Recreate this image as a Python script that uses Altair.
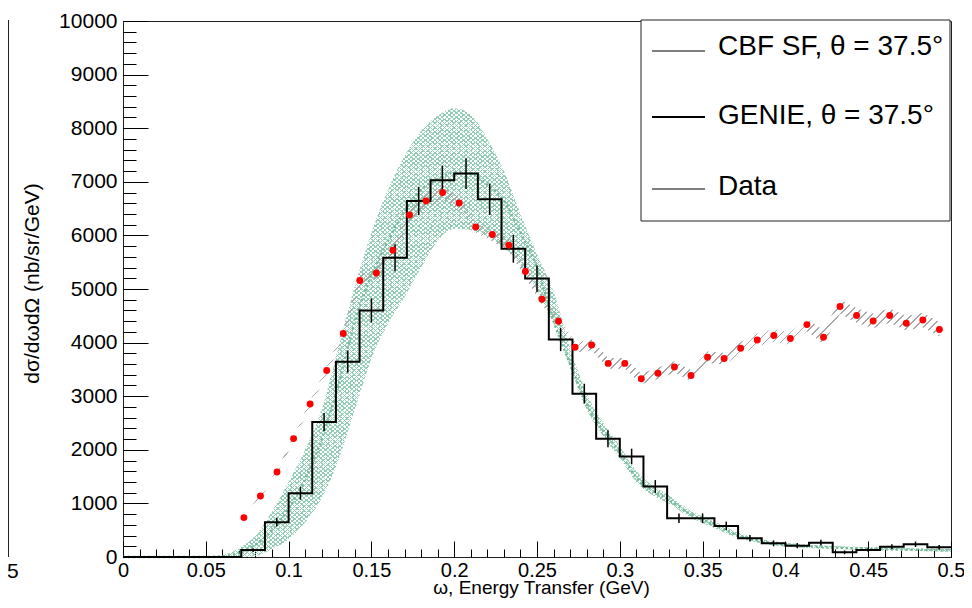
import altair as alt
import pandas as pd

# ---------------- data ----------------
# GENIE histogram: 35 bins of width 1/70 GeV between 0 and 0.5
bin_edges = [round(i / 70, 6) for i in range(36)]
genie_vals = [0, 0, 0, 0, 0, 130, 650, 1190, 2518, 3645, 4600, 5583, 6642, 7028, 7153,
              6673, 5751, 5196, 4056, 3047, 2206, 1875, 1315, 723, 723, 580, 349, 255,
              212, 268, 88, 131, 193, 237, 181]
genie_errs = [0, 0, 0, 0, 0, 35, 80, 120, 170, 205, 225, 250, 265, 275, 285,
              290, 260, 245, 215, 185, 160, 145, 120, 90, 90, 80, 60, 55,
              50, 55, 35, 40, 45, 50, 45]

# Data points (red) with their error band
data_w = [0.073, 0.083, 0.093, 0.103, 0.113, 0.123, 0.133, 0.143, 0.153, 0.163, 0.173,
          0.183, 0.193, 0.203, 0.213, 0.223, 0.233, 0.243, 0.253, 0.263, 0.273, 0.283,
          0.293, 0.303, 0.313, 0.323, 0.333, 0.343, 0.353, 0.363, 0.373, 0.383, 0.393,
          0.403, 0.413, 0.423, 0.433, 0.443, 0.453, 0.463, 0.473, 0.483, 0.493]
data_vals = [735, 1138, 1586, 2209, 2855, 3478, 4169, 5158, 5300, 5723, 6382,
             6643, 6800, 6606, 6158, 6016, 5816, 5326, 4809, 4398, 3913, 3956,
             3612, 3612, 3325, 3428, 3545, 3385, 3726, 3702, 3894, 4049, 4131,
             4075, 4336, 4100, 4672, 4504, 4404, 4504, 4361, 4423, 4243]
data_errs = [25, 30, 40, 50, 60, 75, 85, 100, 105, 110, 120,
             125, 130, 125, 120, 120, 115, 110, 105, 100, 100, 100,
             100, 100, 100, 105, 105, 105, 110, 110, 115, 120, 120,
             120, 125, 125, 135, 135, 135, 135, 135, 135, 135]

# CBF SF prediction: central curve and band
cbf_w = [0.0, 0.05, 0.06, 0.065, 0.07, 0.08, 0.09, 0.10, 0.11, 0.12, 0.13, 0.14, 0.15,
         0.16, 0.17, 0.18, 0.19, 0.20, 0.21, 0.22, 0.23, 0.24, 0.25, 0.26, 0.27, 0.28,
         0.29, 0.30, 0.31, 0.32, 0.33, 0.34, 0.35, 0.36, 0.37, 0.38, 0.39, 0.40, 0.42,
         0.44, 0.46, 0.48, 0.50]
cbf_mid = [0, 0, 15, 40, 80, 230, 500, 900, 1450, 2200, 3200, 4400, 5250,
           5900, 6450, 6850, 7050, 7180, 7150, 6950, 6650, 6050, 5400, 4400, 3600, 2850,
           2350, 1950, 1480, 1230, 1060, 850, 690, 560, 420, 330, 270, 230, 190,
           165, 150, 135, 125]
cbf_lo = [0, 0, 0, 0, 0, 20, 150, 330, 650, 1100, 1800, 2750, 3700,
          4350, 4850, 5400, 5900, 6120, 6100, 5980, 5780, 5450, 4980, 4350, 3550, 2750,
          2250, 1850, 1400, 1150, 990, 790, 630, 500, 370, 290, 230, 195, 160,
          140, 125, 110, 100]
cbf_hi = [0, 0, 30, 80, 160, 400, 850, 1400, 2000, 2750, 3900, 5050, 6050,
          6850, 7480, 7950, 8230, 8370, 8250, 7800, 7200, 6400, 5650, 4950, 3900, 3050,
          2500, 2070, 1600, 1330, 1150, 920, 750, 620, 470, 370, 310, 265, 220,
          190, 175, 160, 150]

x_major = [0, 0.05, 0.1, 0.15, 0.2, 0.25, 0.3, 0.35, 0.4, 0.45, 0.5]
x_minor = [round(i / 100, 2) for i in range(51)]
y_major = [0, 1000, 2000, 3000, 4000, 5000, 6000, 7000, 8000, 9000, 10000]
y_minor = list(range(0, 10001, 200))
legend_labels = ["CBF SF, θ = 37.5°", "GENIE, θ = 37.5°", "Data"]
x_title = "ω, Energy Transfer (GeV)"
y_title = "dσ/dωdΩ (nb/sr/GeV)"

# ---------------- tables ----------------
hist_df = pd.DataFrame({"x": bin_edges, "y": genie_vals + [genie_vals[-1]]})
err_rows = []
for i, (v, e) in enumerate(zip(genie_vals, genie_errs)):
    if e > 0:
        err_rows.append({"c": (bin_edges[i] + bin_edges[i + 1]) / 2, "lo": v - e, "hi": v + e})
err_df = pd.DataFrame(err_rows)
data_df = pd.DataFrame({"w": data_w, "v": data_vals,
                        "lo": [v - e for v, e in zip(data_vals, data_errs)],
                        "hi": [v + e for v, e in zip(data_vals, data_errs)]})
cbf_df = pd.DataFrame({"w": cbf_w, "mid": cbf_mid, "lo": cbf_lo, "hi": cbf_hi})

W, H = 828, 536
FONT = "Liberation Sans"
xs = alt.Scale(domain=[0, 0.5], nice=False, zero=False)
ys = alt.Scale(domain=[0, 10000], nice=False)


def stripes(n, color, frac, x1, y1, x2, y2):
    """Striped linear gradient used to imitate ROOT hatch fills."""
    clear = "rgba(255,255,255,0)"
    st = []
    for k in range(n):
        a, b, c = k / n, (k + frac) / n, (k + 1) / n
        st += [alt.GradientStop(color=color, offset=a), alt.GradientStop(color=color, offset=b),
               alt.GradientStop(color=clear, offset=b), alt.GradientStop(color=clear, offset=c)]
    return alt.LinearGradient(gradient="linear", stops=st, x1=x1, y1=y1, x2=x2, y2=y2)


ax_x_lab = alt.Axis(orient="bottom", values=x_major, format="~g", ticks=False, tickSize=0,
                    domain=False, grid=False, labelFontSize=20, labelFont=FONT,
                    labelColor="black", labelPadding=3, labelFlush=False, labelOverlap=False,
                    labelBound=False, title=x_title, titleFont=FONT, titleFontSize=19,
                    titleFontWeight="normal", titleColor="black", titleX=418, titleY=30,
                    titleAlign="center", titleBaseline="middle")
ax_y_lab = alt.Axis(orient="left", values=y_major, format="d", ticks=False, tickSize=0,
                    domain=False, grid=False, labelFontSize=21, labelFont=FONT,
                    labelColor="black", labelPadding=6, labelFlush=False, labelOverlap=False,
                    title=y_title, titleFont=FONT, titleFontSize=21, titleFontWeight="normal",
                    titleColor="black", titleAngle=270, titleX=-91, titleY=262,
                    titleAlign="center", titleBaseline="middle")
ax_x_maj = alt.Axis(orient="top", offset=-H, values=x_major, labels=False, tickSize=16,
                    tickColor="black", tickWidth=1, domain=False, grid=False, title=None)
ax_x_min = alt.Axis(orient="top", offset=-H, values=x_minor, labels=False, tickSize=8,
                    tickColor="black", tickWidth=1, domain=False, grid=False, title=None)
ax_y_maj = alt.Axis(orient="right", offset=-W, values=y_major, labels=False, tickSize=25,
                    tickColor="black", tickWidth=1, domain=False, grid=False, title=None)
ax_y_min = alt.Axis(orient="right", offset=-W, values=y_minor, labels=False, tickSize=13,
                    tickColor="black", tickWidth=1, domain=False, grid=False, title=None)

# CBF band: cross-hatching made of two striped layers
band_h1 = alt.Chart(cbf_df).mark_area(fill=stripes(300, "#93cdb5", 0.3, 0, 0, 1.25, 0.77),
                                      interpolate="monotone").encode(
    x=alt.X("w:Q", scale=xs, axis=ax_x_lab),
    y=alt.Y("lo:Q", scale=ys, axis=ax_y_lab), y2="hi:Q")
band_h2 = alt.Chart(cbf_df).mark_area(fill=stripes(300, "#93cdb5", 0.3, 0, 1, 1.25, 0.23),
                                      interpolate="monotone").encode(
    x=alt.X("w:Q", scale=xs, axis=None),
    y=alt.Y("lo:Q", scale=ys, axis=None), y2="hi:Q")

# hatched data band
dband = alt.Chart(data_df).mark_area(fill=stripes(130, "#a8a8a8", 0.22, 0, 0, 1.21, 0.58),
                                     interpolate="linear").encode(
    x=alt.X("w:Q", scale=xs, axis=None),
    y=alt.Y("lo:Q", scale=ys, axis=None), y2="hi:Q")

central = alt.Chart(cbf_df).mark_line(color="#72b896", strokeDash=[2, 3], strokeWidth=2.5,
                                      interpolate="monotone").encode(
    x=alt.X("w:Q", scale=xs, axis=ax_x_maj),
    y=alt.Y("mid:Q", scale=ys, axis=ax_y_maj))

hist = alt.Chart(hist_df).mark_line(color="black", strokeWidth=2, interpolate="step-after").encode(
    x=alt.X("x:Q", scale=xs, axis=ax_x_min),
    y=alt.Y("y:Q", scale=ys, axis=ax_y_min))

errs = alt.Chart(err_df).mark_rule(color="black", strokeWidth=1.5).encode(
    x=alt.X("c:Q", scale=xs, axis=None),
    y=alt.Y("lo:Q", scale=ys, axis=None), y2="hi:Q")

dots = alt.Chart(data_df).mark_circle(color="#ff0000", size=48, opacity=1).encode(
    x=alt.X("w:Q", scale=xs, axis=None),
    y=alt.Y("v:Q", scale=ys, axis=None))

one = pd.DataFrame({"k": [0]})
leg_box = alt.Chart(one).mark_rect(fill="white", stroke="#222", strokeWidth=1).encode(
    x=alt.value(518), x2=alt.value(827), y=alt.value(-1), y2=alt.value(200))
leg_layers = [leg_box]
line_y = [30, 96, 168]
text_y = [26, 95, 166]
line_w = [1, 2, 1]
for lab, ly, ty, lw in zip(legend_labels, line_y, text_y, line_w):
    leg_layers.append(alt.Chart(one).mark_rule(color="black", strokeWidth=lw).encode(
        x=alt.value(529), x2=alt.value(582), y=alt.value(ly)))
    leg_layers.append(alt.Chart(one).mark_text(align="left", baseline="middle", fontSize=28,
                                               font=FONT, color="black").encode(
        x=alt.value(595), y=alt.value(ty), text=alt.value(lab)))

# fragments of the neighbouring (cropped) panel on the left
frag_line = alt.Chart(one).mark_rule(color="#222", strokeWidth=1).encode(
    x=alt.value(-114.5), y=alt.value(-1), y2=alt.value(536))
frag_text = alt.Chart(one).mark_text(align="center", baseline="middle", fontSize=21,
                                     font=FONT, color="black").encode(
    x=alt.value(-119), y=alt.value(551), text=alt.value("0.5"))

chart = alt.layer(band_h1, band_h2, dband, central, hist, errs, dots, *leg_layers,
                  frag_line, frag_text).resolve_axis(
    x="independent", y="independent"
).properties(
    width=W, height=H,
    autosize=alt.AutoSizeParams(type="none"),
    padding={"left": 115, "top": 13, "right": 13, "bottom": 42},
    background="white",
).configure_view(stroke="#222", strokeWidth=1)

chart.save("out.html", embed_options={"renderer": "svg", "actions": False})
